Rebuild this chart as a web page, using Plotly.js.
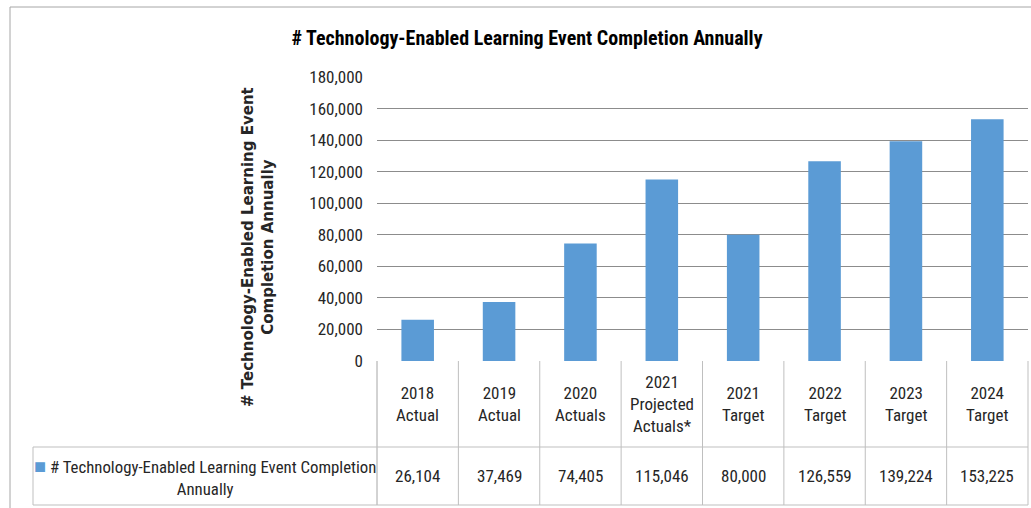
<!DOCTYPE html>
<html>
<head>
<meta charset="utf-8">
<script src="https://cdn.plot.ly/plotly-3.0.1.min.js"></script>
<style>html,body{margin:0;padding:0;background:#fff;}#chart{width:1031px;height:508px;}</style>
</head>
<body>
<div id="chart"></div>
<script>
// ---- data ----
const categories = ["2018 Actual", "2019 Actual", "2020 Actuals", "2021 Projected Actuals*", "2021 Target", "2022 Target", "2023 Target", "2024 Target"];
const headerLabels = ["2018<br>Actual", "2019<br>Actual", "2020<br>Actuals", "2021<br>Projected<br>Actuals*", "2021<br>Target", "2022<br>Target", "2023<br>Target", "2024<br>Target"];
const values = [26104, 37469, 74405, 115046, 80000, 126559, 139224, 153225];
const seriesName = "# Technology-Enabled Learning Event Completion Annually";
const chartTitle = "# Technology-Enabled Learning Event Completion Annually";
const yTitle = "# Technology-Enabled Learning Event<br>Completion Annually";
const yTicks = [0, 20000, 40000, 60000, 80000, 100000, 120000, 140000, 160000, 180000];

// ---- layout helpers ----
const W = 1031, H = 508;
const px = x => x / W;
const py = y => 1 - y / H;
const plotL = 377, plotR = 1028, plotT = 77, plotB = 361;
const hdrB = 447, tblB = 505, legL = 33;
const NARROW = '"Liberation Sans Narrow", "Arial Narrow", "Roboto Condensed", sans-serif';
const blue = '#5B9BD5';
const fmt = v => v.toLocaleString('en-US');

const trace = {
  type: 'bar',
  x: categories,
  y: values,
  name: seriesName,
  marker: {color: blue, line: {width: 0}},
  hoverinfo: 'skip'
};

const shapes = [];
const line = (x0, y0, x1, y1, color) => shapes.push({type: 'line', xref: 'paper', yref: 'paper', x0: px(x0), y0: py(y0), x1: px(x1), y1: py(y1), line: {color: color, width: 1}});
// outer frame
line(10, 7, 1031, 7, '#a6a6a6');
line(10, 7, 10, 508, '#a6a6a6');
// table grid
const tblColor = '#bfbfbf';
const colW = (plotR - plotL) / categories.length;
for (let i = 0; i <= categories.length; i++) {
  const x = plotL + i * colW;
  line(x, plotB, x, tblB, i === 0 ? '#a6a6a6' : tblColor);
}
line(legL, hdrB, plotR, hdrB, tblColor);
line(legL, tblB, plotR, tblB, tblColor);
line(legL, hdrB, legL, tblB, tblColor);

const annotations = [];
// header labels & values
categories.forEach((c, i) => {
  annotations.push({x: c, xref: 'x', y: py((plotB + hdrB) / 2), yref: 'paper', text: headerLabels[i], showarrow: false, align: 'center', xanchor: 'center', yanchor: 'middle', font: {family: NARROW, size: 17, color: '#262626'}});
  annotations.push({x: c, xref: 'x', y: py((hdrB + tblB) / 2), yref: 'paper', text: fmt(values[i]), showarrow: false, xanchor: 'center', yanchor: 'middle', font: {family: NARROW, size: 17, color: '#262626'}});
});
// legend cell
annotations.push({x: px((legL + plotL) / 2), xref: 'paper', y: py((hdrB + tblB) / 2), yref: 'paper', showarrow: false, align: 'center', xanchor: 'center', yanchor: 'middle',
  text: '<span style="color:' + blue + '; font-size:20px">■</span> # Technology-Enabled Learning Event Completion<br>Annually',
  font: {family: NARROW, size: 16.8, color: '#262626'}});
// y title
annotations.push({x: px(258), xref: 'paper', y: py(247), yref: 'paper', showarrow: false, textangle: -90, xanchor: 'center', yanchor: 'middle', align: 'center',
  text: '<b>' + yTitle + '</b>', font: {family: '"DejaVu Sans", Verdana, sans-serif', size: 15, color: '#262626'}});

const layout = {
  width: W, height: H,
  margin: {l: 0, r: 0, t: 0, b: 0},
  paper_bgcolor: '#fff', plot_bgcolor: '#fff',
  showlegend: false,
  bargap: 0.6,
  title: {text: '<b>' + chartTitle + '</b>', x: px(527), xanchor: 'center', y: py(38), yanchor: 'middle', font: {family: NARROW, size: 20, color: '#000'}},
  xaxis: {domain: [px(plotL), px(plotR)], type: 'category', categoryorder: 'array', categoryarray: categories, showticklabels: false, ticks: '', showgrid: false, zeroline: false, showline: false},
  yaxis: {domain: [py(plotB), py(plotT)], range: [0, 180000], tickvals: yTicks, ticktext: yTicks.map(fmt), showgrid: true, gridcolor: '#8c8c8c', gridwidth: 1, zeroline: false, showline: false, ticks: '', ticklabelstandoff: 13,
    tickfont: {family: NARROW, size: 17, color: '#262626'}},
  shapes: shapes,
  annotations: annotations
};

Plotly.newPlot('chart', [trace], layout, {staticPlot: true, displayModeBar: false});
</script>
</body>
</html>
